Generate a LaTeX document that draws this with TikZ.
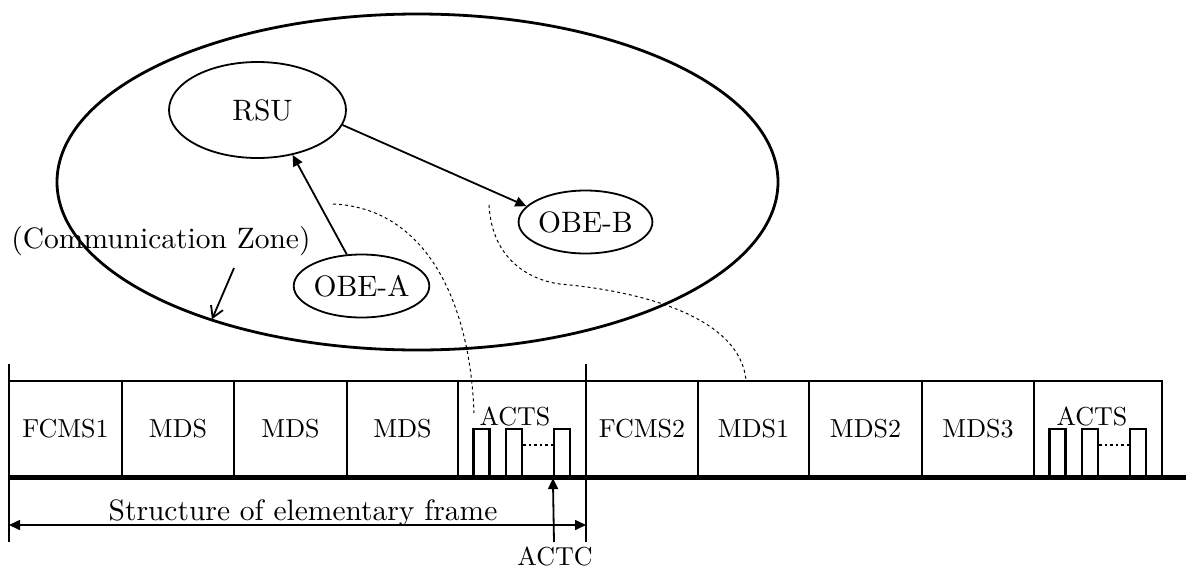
\documentclass[tikz,border=0pt]{standalone}
\usepackage{fontspec}
\setmainfont{lmroman10-regular.otf}
\usetikzlibrary{arrows.meta,shapes.geometric}
\begin{document}
\begin{tikzpicture}[x=1pt,y=-1pt,
  big/.style={font=\fontsize{29.5}{36}\selectfont},
  small/.style={font=\fontsize{26}{31}\selectfont},
  unit/.style={draw, ellipse, line width=1.8pt, inner sep=0pt, minimum width=129pt, minimum height=63pt, big},
  slot/.style={draw, rectangle, line width=2.2pt, inner sep=0pt, minimum height=96pt, small},
  pulse/.style={draw, rectangle, line width=2.2pt, inner sep=0pt, minimum width=16pt, minimum height=48pt},
  conn/.style={line width=1.8pt, -{Triangle[length=11pt,width=10pt]}},
  guide/.style={line width=1pt, dash pattern=on 3pt off 3pt},
  gap/.style={line width=1.6pt, dash pattern=on 2.5pt off 3pt},
]
\useasboundingbox (0,0) rectangle (1186,568);

% zone and units
\node[draw, ellipse, line width=2.8pt, minimum width=721pt, minimum height=336pt, inner sep=0pt] (zone) at (417.5,182) {};
\node[unit, minimum width=177pt, minimum height=96pt] (rsu) at (257.5,110) {\hspace*{10pt}RSU};
\node[unit] (obea) at (361.5,286) {OBE-A};
\node[unit] (obeb) at (585.5,222) {OBE-B};
\node[big, anchor=base, inner sep=0pt] (cz) at (161,248) {(Communication Zone)};

\draw[conn] (obea.115) -- (rsu.-52);
\draw[conn] (rsu.-10) -- (obeb.165);
\coordinate (czstart) at (234,268);
\draw[line width=1.8pt, -{Straight Barb[length=11pt,width=13pt]}, shorten >=2pt] (czstart) -- (zone.-146);

% slots
\node[slot, minimum width=113pt] (s1) at (65.5,429) {FCMS1};
\node[slot, minimum width=112pt] (s2) at (178,429) {MDS};
\node[slot, minimum width=113pt] (s3) at (290.5,429) {MDS};
\node[slot, minimum width=111pt] (s4) at (402.5,429) {MDS};
\node[slot, minimum width=128pt] (s5) at (522,429) {};
\node[slot, minimum width=112pt] (s6) at (642,429) {FCMS2};
\node[slot, minimum width=111pt] (s7) at (753.5,429) {MDS1};
\node[slot, minimum width=113pt] (s8) at (865.5,429) {MDS2};
\node[slot, minimum width=112pt] (s9) at (978,429) {MDS3};
\node[slot, minimum width=128pt] (s10) at (1098,429) {};

\node[small, anchor=base, inner sep=0pt] (actsA) at (515,425) {ACTS};
\node[small, anchor=base, inner sep=0pt] (actsB) at (1092,425) {ACTS};

\node[pulse] (pA1) at (481.5,453) {};
\node[pulse] (pA2) at (514,453) {};
\node[pulse] (pA3) at (562,453) {};
\node[pulse] (pB1) at (1057.5,453) {};
\node[pulse] (pB2) at (1090,453) {};
\node[pulse] (pB3) at (1138,453) {};
\draw[gap] ([yshift=8pt]pA2.east) -- ([yshift=8pt]pA3.west);
\draw[gap] ([yshift=8pt]pB2.east) -- ([yshift=8pt]pB3.west);

% time axis and frame bounds
\coordinate (axisL) at (8,477);
\coordinate (axisR) at (1186,477);
\draw[line width=5pt] (axisL) -- (axisR);
\coordinate (fL1) at (9,364); \coordinate (fL2) at (9,542);
\coordinate (fR1) at (586,364); \coordinate (fR2) at (586,542);
\draw[line width=2.2pt] (fL1) -- (fL2);
\draw[line width=2.2pt] (fR1) -- (fR2);

\coordinate (dimL) at (9,525); \coordinate (dimR) at (586,525);
\draw[line width=1.6pt, {Triangle[length=11pt,width=10pt]}-{Triangle[length=11pt,width=10pt]}] (dimL) -- (dimR);
\node[big, anchor=base, inner sep=0pt] (struct) at (303,520) {Structure of elementary frame};

\node[small, anchor=base, inner sep=0pt] (actc) at (555,565) {ACTC};
\coordinate (actcstart) at (554,542);
\draw[conn] (actcstart) -- (pA3.south west);

% guide curves
\coordinate (g1a) at (333,204);
\coordinate (g1b) at (474,413);
\draw[guide] (g1a) .. controls (425,208) and (470,300) .. (g1b);
\coordinate (g2a) at (489,205);
\coordinate (g2k) at (560,284);
\coordinate (g2b) at (746,380);
\draw[guide] (g2a) .. controls (492,260) and (530,280) .. (g2k)
  .. controls (650,292) and (740,320) .. (g2b);
\end{tikzpicture}
\end{document}
